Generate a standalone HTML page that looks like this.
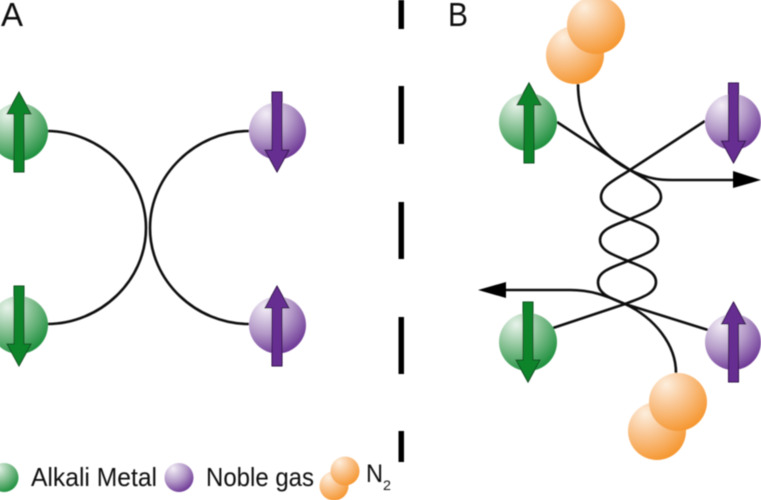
<!DOCTYPE html>
<html>
<head>
<meta charset="utf-8">
<style>
html,body{margin:0;padding:0;background:#fff;width:761px;height:500px;overflow:hidden}
svg{display:block}
text{font-family:"Liberation Sans",sans-serif;fill:#111}
</style>
</head>
<body>
<svg width="761" height="500" viewBox="0 0 761 500" xmlns="http://www.w3.org/2000/svg">
<defs>
<radialGradient id="g" cx="0.3" cy="0.2" r="0.9">
<stop offset="0" stop-color="#e8f3ea"/><stop offset="0.5" stop-color="#7fbd8d"/><stop offset="1" stop-color="#118a33"/>
</radialGradient>
<radialGradient id="p" cx="0.3" cy="0.2" r="0.9">
<stop offset="0" stop-color="#f2edf6"/><stop offset="0.5" stop-color="#b49ac8"/><stop offset="1" stop-color="#652c90"/>
</radialGradient>
<radialGradient id="o" cx="0.3" cy="0.2" r="0.85">
<stop offset="0" stop-color="#fdeedd"/><stop offset="0.45" stop-color="#f9c48f"/><stop offset="1" stop-color="#f6962f"/>
</radialGradient>
<filter id="b" x="-5%" y="-5%" width="110%" height="110%"><feGaussianBlur stdDeviation="0.45"/></filter>
<path id="up" d="M0,-40 L12,-18 L5,-18 L5,40 L-5,40 L-5,-18 L-12,-18 Z"/>
<path id="dn" d="M0,40 L12,18 L5,18 L5,-40 L-5,-40 L-5,18 L-12,18 Z"/>
</defs>
<g filter="url(#b)">
<!-- divider -->
<g fill="#000">
<rect x="398.5" y="0" width="5.5" height="29"/>
<rect x="398.5" y="86" width="5.5" height="58"/>
<rect x="398.5" y="202" width="5.5" height="57"/>
<rect x="398.5" y="317" width="5.5" height="57"/>
<rect x="398.5" y="431" width="5.5" height="31"/>
</g>

<!-- Panel A connectors -->
<g fill="none" stroke="#111" stroke-width="2.6">
<path d="M47,131 C100,131 146,175 146,228 C146,281 100,324 47,324"/>
<path d="M249,131 C196,131 150,175 150,228 C150,281 196,324 249,324"/>
</g>

<!-- Panel A spheres -->
<circle cx="19" cy="132" r="29" fill="url(#g)"/>
<circle cx="277.5" cy="131" r="28.5" fill="url(#p)"/>
<circle cx="19" cy="325" r="29" fill="url(#g)"/>
<circle cx="277.5" cy="325" r="28.5" fill="url(#p)"/>
<g stroke="#0b4a1e" stroke-width="1" fill="#0d842b">
<use href="#up" x="19" y="132"/>
<use href="#dn" x="19" y="326"/>
<use href="#up" x="529" y="123"/>
<use href="#dn" x="528" y="342"/>
</g>
<g stroke="#2c1145" stroke-width="1" fill="#662d91">
<use href="#dn" x="277" y="132"/>
<use href="#up" x="277" y="326"/>
</g>

<!-- Panel B orange molecules -->
<circle cx="575" cy="55" r="29" fill="url(#o)"/>
<circle cx="596" cy="25" r="29" fill="url(#o)"/>
<circle cx="657" cy="431" r="29" fill="url(#o)"/>
<circle cx="678" cy="402" r="29" fill="url(#o)"/>

<!-- Panel B connectors -->
<g fill="none" stroke="#111" stroke-width="2.6">
<path d="M557,122 L630,170 C648,181 661,186 661,197 C661,208 644,213 630,219 C615,225 600,229 600,240 C600,251 614,255 628,261 C642,267 656,271 656,282 C656,294 640,298 625,304 L708,330"/>
<path d="M705,121 L630,170 C613,181 601,186 601,197 C601,208 616,213 630,219 C645,225 658,229 658,240 C658,251 642,255 628,261 C613,267 598,271 598,282 C598,294 610,298 625,304 L553,328"/>
<path d="M578,84 C578,125 600,155 630,170 C648,179 660,180 672,180 L735,180"/>
<path d="M676,373 C676,345 655,318 625,304 C605,295 590,290 570,290 L503,290"/>
</g>
<path d="M733,171 L761,180 L733,188 Z" fill="#000"/>
<path d="M478,290 L506,282 L506,298 Z" fill="#000"/>

<!-- Panel B spheres -->
<circle cx="528" cy="122" r="29" fill="url(#g)"/>
<circle cx="733" cy="122" r="28" fill="url(#p)"/>
<circle cx="528" cy="342" r="29" fill="url(#g)"/>
<circle cx="733" cy="342" r="28" fill="url(#p)"/>
<g stroke="#0b4a1e" stroke-width="1" fill="#0d842b">
<use href="#up" x="529" y="123"/>
<use href="#dn" x="528" y="342"/>
</g>
<g stroke="#2c1145" stroke-width="1" fill="#662d91">
<use href="#dn" x="733.5" y="123"/>
<use href="#up" x="733.5" y="342"/>
</g>

<!-- Legend -->
<circle cx="4" cy="477.5" r="14.5" fill="url(#g)"/>
<circle cx="179" cy="477.5" r="14.5" fill="url(#p)"/>
<circle cx="334" cy="486" r="14.5" fill="url(#o)"/>
<circle cx="345" cy="471" r="14.5" fill="url(#o)"/>

<!-- Text -->
<text x="1" y="26" font-size="33" textLength="22" lengthAdjust="spacingAndGlyphs">A</text>
<text x="448" y="26" font-size="33" textLength="20" lengthAdjust="spacingAndGlyphs">B</text>
<text x="31" y="486" font-size="26" textLength="126" lengthAdjust="spacingAndGlyphs">Alkali Metal</text>
<text x="206" y="486" font-size="26" textLength="108" lengthAdjust="spacingAndGlyphs">Noble gas</text>
<text x="366" y="482" font-size="25" textLength="17" lengthAdjust="spacingAndGlyphs">N</text>
<text x="383" y="490" font-size="14" textLength="8" lengthAdjust="spacingAndGlyphs">2</text>
</g>
</svg>
</body>
</html>
